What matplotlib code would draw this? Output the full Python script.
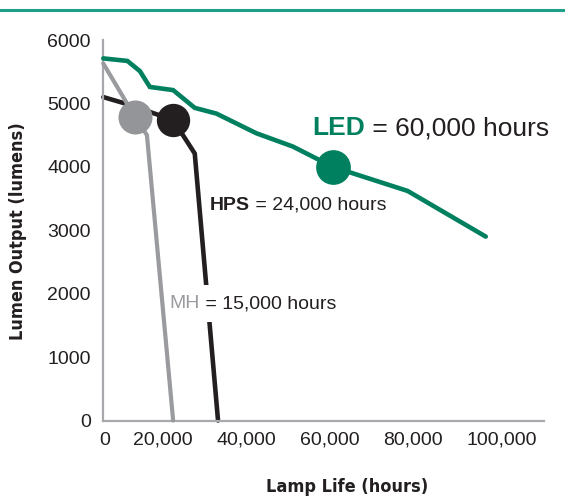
import numpy as np
import matplotlib.pylab as plt
from matplotlib import font_manager

# 灯具寿命与光通量
led_hours = [5600, 11400, 14400, 16800, 22400, 27600, 32800, 42400, 51200, 60800, 78800, 97600]
led_lumens = [5710, 5670, 5510, 5260, 5210, 4930, 4840, 4530, 4320, 4000, 3620, 2900]

mh_hours = [5600, 13200, 16100, 22400]
mh_lumens = [5630, 4790, 4500, 0]

hps_hours = [5600, 10800, 22400, 27600, 33200]
hps_lumens = [5100, 5000, 4740, 4210, 0]

# 额定寿命点 (MH, HPS, LED)
mark_hours = [13200, 22400, 60800]
mark_lumens = [4790, 4740, 4000]

y_ticks = [0, 1000, 2000, 3000, 4000, 5000, 6000]
x_tick_labels = ["0", "20,000", "40,000", "60,000", "80,000", "100,000"]
x_tick_pos = [6000, 20000, 40000, 60000, 80000, 101500]

green = "#00805f"
gray = "#999b9e"
black = "#231f20"
num_font = ["Liberation Sans", "DejaVu Sans"]

# 找一个窄体字体给坐标轴标题，没有就用小一号的 Liberation Sans
fonts = font_manager.fontManager.ttflist
names = {f.name for f in fonts}
title_stretch = "normal"
if "Liberation Sans Narrow" in names:
    title_font, title_size = ["Liberation Sans Narrow"], 15.5
elif any(f.name == "DejaVu Sans" and f.stretch == "condensed" for f in fonts):
    title_font, title_size, title_stretch = ["DejaVu Sans"], 13, "condensed"
else:
    title_font, title_size = ["Liberation Sans", "DejaVu Sans"], 13.5

fig = plt.figure(figsize=(5.65, 4.97), dpi=100)
ax = fig.add_axes([0.1828, 0.1539, 0.780, 0.7656])

# 顶部的横线
fig.add_artist(plt.Line2D([0, 1], [0.98, 0.98], transform=fig.transFigure,
                          color="#1f9e88", lw=2.2))

ax.plot(hps_hours, hps_lumens, color=black, lw=3.3, solid_capstyle="round",
        solid_joinstyle="miter", zorder=2, clip_on=False)
ax.plot(mh_hours, mh_lumens, color=gray, lw=3.0, solid_capstyle="round",
        solid_joinstyle="miter", zorder=4, clip_on=False)
ax.plot(led_hours, led_lumens, color=green, lw=3.3, solid_capstyle="round",
        solid_joinstyle="miter", zorder=6, clip_on=False)

ax.plot(mark_hours[1], mark_lumens[1], "o", ms=24, color=black, mec="none", zorder=3)
ax.plot(mark_hours[0], mark_lumens[0], "o", ms=24.5, color="#939598", mec="none", zorder=5)
ax.plot(mark_hours[2], mark_lumens[2], "o", ms=25, color=green, mec="none", zorder=7)

ax.set_xlim(5600, 111600)
ax.set_ylim(0, 6000)
ax.set_yticks(y_ticks)
ax.set_yticklabels([str(v) for v in y_ticks])
ax.set_xticks(x_tick_pos)
ax.set_xticklabels(x_tick_labels)
ax.tick_params(length=0, labelsize=14, labelcolor=black)
ax.tick_params(axis="y", pad=9)
ax.tick_params(axis="x", pad=8)
for lab in ax.get_xticklabels() + ax.get_yticklabels():
    lab.set_family(num_font)

for s in ["top", "right"]:
    ax.spines[s].set_visible(False)
for s in ["left", "bottom"]:
    ax.spines[s].set_color("#a7a9ac")
    ax.spines[s].set_linewidth(1.6)

ax.set_xlabel("Lamp Life (hours)", family=title_font, fontweight="bold",
              fontsize=title_size, fontstretch=title_stretch, color=black)
ax.xaxis.set_label_coords(0.554, -0.150)
ax.set_ylabel("Lumen Output (lumens)", family=title_font, fontweight="bold",
              fontsize=title_size, fontstretch=title_stretch, color=black)
ax.yaxis.set_label_coords(-0.172, 0.498)

# 标注
t = ax.text(55900, 4502, "LED", color=green, fontweight="bold", fontsize=19,
            family=num_font, va="baseline", ha="left")
ax.annotate(" = 60,000 hours", xy=(1, 0), xycoords=t, va="bottom", ha="left",
            fontsize=19, family=num_font, color=black)

t = ax.text(31200, 3320, "HPS", color=black, fontweight="bold", fontsize=14,
            family=num_font, va="baseline", ha="left")
ax.annotate(" = 24,000 hours", xy=(1, 0), xycoords=t, va="bottom", ha="left",
            fontsize=14, family=num_font, color=black)

t = ax.text(21600, 1774, "MH", color=gray, fontsize=14, family=num_font,
            va="baseline", ha="left", zorder=3.6)
ax.annotate(" = 15,000 hours", xy=(1, 0), xycoords=t, va="bottom", ha="left",
            fontsize=14, family=num_font, color=black, zorder=3.5,
            bbox=dict(boxstyle="square,pad=0.5", fc="white", ec="none"))

plt.savefig("out.png", dpi=100)
